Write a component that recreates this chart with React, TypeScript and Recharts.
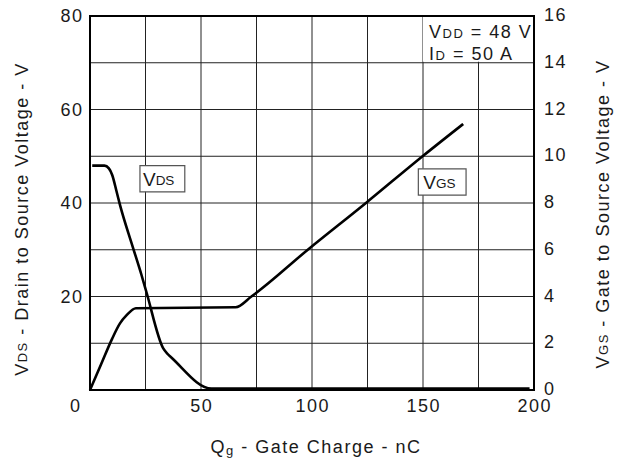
import React from 'react';
import { ComposedChart, Line, XAxis, YAxis, CartesianGrid, ReferenceArea } from 'recharts';

// Gate charge (nC) vs drain-source voltage (V), left axis
const vdsQ = [1, 6.5, 8.5, 10, 12, 13.5, 19, 23.2, 25.5, 33, 35, 37, 54.7, 198];
const vdsV = [48, 48, 47.4, 46, 42.4, 39.6, 31, 24.6, 20.8, 8.9, 7.7, 6.8, 0.3, 0.3];

// Gate charge (nC) vs gate-source voltage (V), right axis
const vgsQ = [0, 5, 10, 13.5, 16.5, 20.7, 65.6, 72.7, 98.1, 124.3, 149.8, 168.1];
const vgsV = [0, 1.1, 2.2, 2.85, 3.2, 3.5, 3.54, 4, 6, 8, 10, 11.38];

const xTicks = [0, 25, 50, 75, 100, 125, 150, 175, 200];
const leftTicks = [20, 40, 60, 80];
const rightTicks = [0, 2, 4, 6, 8, 10, 12, 14, 16];

const FONT = '"Liberation Sans", Arial, sans-serif';
const INK = '#1a1a1a';
const LS = 1.5;

const rows: { q: number; vds?: number; vgs?: number }[] = [];
vdsQ.forEach((q, i) => rows.push({ q, vds: vdsV[i] }));
vgsQ.forEach((q, i) => rows.push({ q, vgs: vgsV[i] }));
rows.sort((a, b) => a.q - b.q);

const txt = { fontFamily: FONT, fill: INK, fontSize: 18, letterSpacing: LS };

const BottomTick = (props: any) => {
  const { x, y, payload } = props;
  if (payload.value % 50 !== 0) return null;
  const dx = payload.value === 0 ? -15 : 0;
  return (
    <text x={x + dx + LS / 2} y={y + 16} textAnchor="middle" dominantBaseline="central" {...txt}>
      {payload.value}
    </text>
  );
};

const LeftTick = (props: any) => {
  const { x, y, payload } = props;
  return (
    <text x={x + LS} y={y} textAnchor="end" dominantBaseline="central" {...txt}>
      {payload.value}
    </text>
  );
};

const RightTick = (props: any) => {
  const { x, y, payload } = props;
  return (
    <text x={x} y={y - 1} textAnchor="start" dominantBaseline="central" {...txt}>
      {payload.value}
    </text>
  );
};

// boxed series tag, e.g. V with subscript DS
const tagLabel = (main: string, sub: string, pad: number) => (props: any) => {
  const { x, y, height } = props.viewBox;
  return (
    <text x={x + pad} y={y + height / 2 + 1} dominantBaseline="central" fontFamily={FONT} fill={INK} fontSize={19}>
      {main}
      <tspan fontSize={13.5}>{sub}</tspan>
    </text>
  );
};

const condLabel = (props: any) => {
  const { x, y } = props.viewBox;
  return (
    <text {...txt}>
      <tspan x={x + 6} y={y + 22}>
        V<tspan fontSize={13}>DD</tspan> = 48 V
      </tspan>
      <tspan x={x + 6} y={y + 44}>
        I<tspan fontSize={13}>D</tspan> = 50 A
      </tspan>
    </text>
  );
};

const App: React.FC = () => {
  return (
    <div style={{ position: 'absolute', left: 0, top: 0, background: '#fff' }}>
      <ComposedChart width={622} height={461} data={rows} margin={{ top: 16, right: 0, bottom: 0, left: 0 }}>
        <CartesianGrid yAxisId="right" stroke="#222" strokeWidth={1} />
        <XAxis
          dataKey="q"
          type="number"
          domain={[0, 200]}
          ticks={xTicks}
          interval={0}
          height={71}
          tickLine={false}
          axisLine={false}
          tickSize={0}
          tickMargin={0}
          tick={<BottomTick />}
          label={{
            content: () => (
              <text x={316} y={447} textAnchor="middle" dominantBaseline="central" {...txt}>
                Q<tspan fontSize={13} dy={3}>g</tspan>
                <tspan dy={-3}> - Gate Charge - nC</tspan>
              </text>
            ),
          }}
        />
        <YAxis
          yAxisId="left"
          domain={[0, 80]}
          ticks={leftTicks}
          interval={0}
          width={90}
          tickLine={false}
          axisLine={false}
          tickSize={0}
          tickMargin={8}
          tick={<LeftTick />}
          label={{
            content: () => (
              <text
                x={22}
                y={219}
                transform="rotate(-90 22 219)"
                textAnchor="middle"
                dominantBaseline="central"
                {...txt}
              >
                V<tspan fontSize={13}>DS</tspan> - Drain to Source Voltage - V
              </text>
            ),
          }}
        />
        <YAxis
          yAxisId="right"
          orientation="right"
          domain={[0, 16]}
          ticks={rightTicks}
          interval={0}
          width={88}
          tickLine={false}
          axisLine={false}
          tickSize={0}
          tickMargin={10}
          tick={<RightTick />}
          label={{
            content: () => (
              <text
                x={603}
                y={214}
                transform="rotate(-90 603 214)"
                textAnchor="middle"
                dominantBaseline="central"
                {...txt}
              >
                V<tspan fontSize={13}>GS</tspan> - Gate to Source Voltage - V
              </text>
            ),
          }}
        />
        <ReferenceArea yAxisId="left" x1={150} x2={200} y1={70.2} y2={80} fill="#fff" fillOpacity={1} stroke="none" label={condLabel} />
        <ReferenceArea
          yAxisId="left"
          x1={0}
          x2={200}
          y1={0}
          y2={80}
          fill="none"
          stroke="#000"
          strokeWidth={2}
          ifOverflow="visible"
        />
        <Line
          yAxisId="left"
          dataKey="vds"
          type="monotone"
          stroke="#000"
          strokeWidth={2.6}
          dot={false}
          connectNulls
          isAnimationActive={false}
        />
        <Line
          yAxisId="right"
          dataKey="vgs"
          type="monotone"
          stroke="#000"
          strokeWidth={2.6}
          dot={false}
          connectNulls
          isAnimationActive={false}
        />
        <ReferenceArea
          yAxisId="left"
          x1={22.5}
          x2={42.7}
          y1={42.4}
          y2={48}
          fill="#fff"
          fillOpacity={1}
          stroke="#555"
          strokeWidth={1.2}
          label={tagLabel('V', 'DS', 3)}
        />
        <ReferenceArea
          yAxisId="left"
          x1={147.9}
          x2={169.4}
          y1={41.7}
          y2={47.3}
          fill="#fff"
          fillOpacity={1}
          stroke="#555"
          strokeWidth={1.2}
          label={tagLabel('V', 'GS', 5)}
        />
      </ComposedChart>
    </div>
  );
};

export default App;
